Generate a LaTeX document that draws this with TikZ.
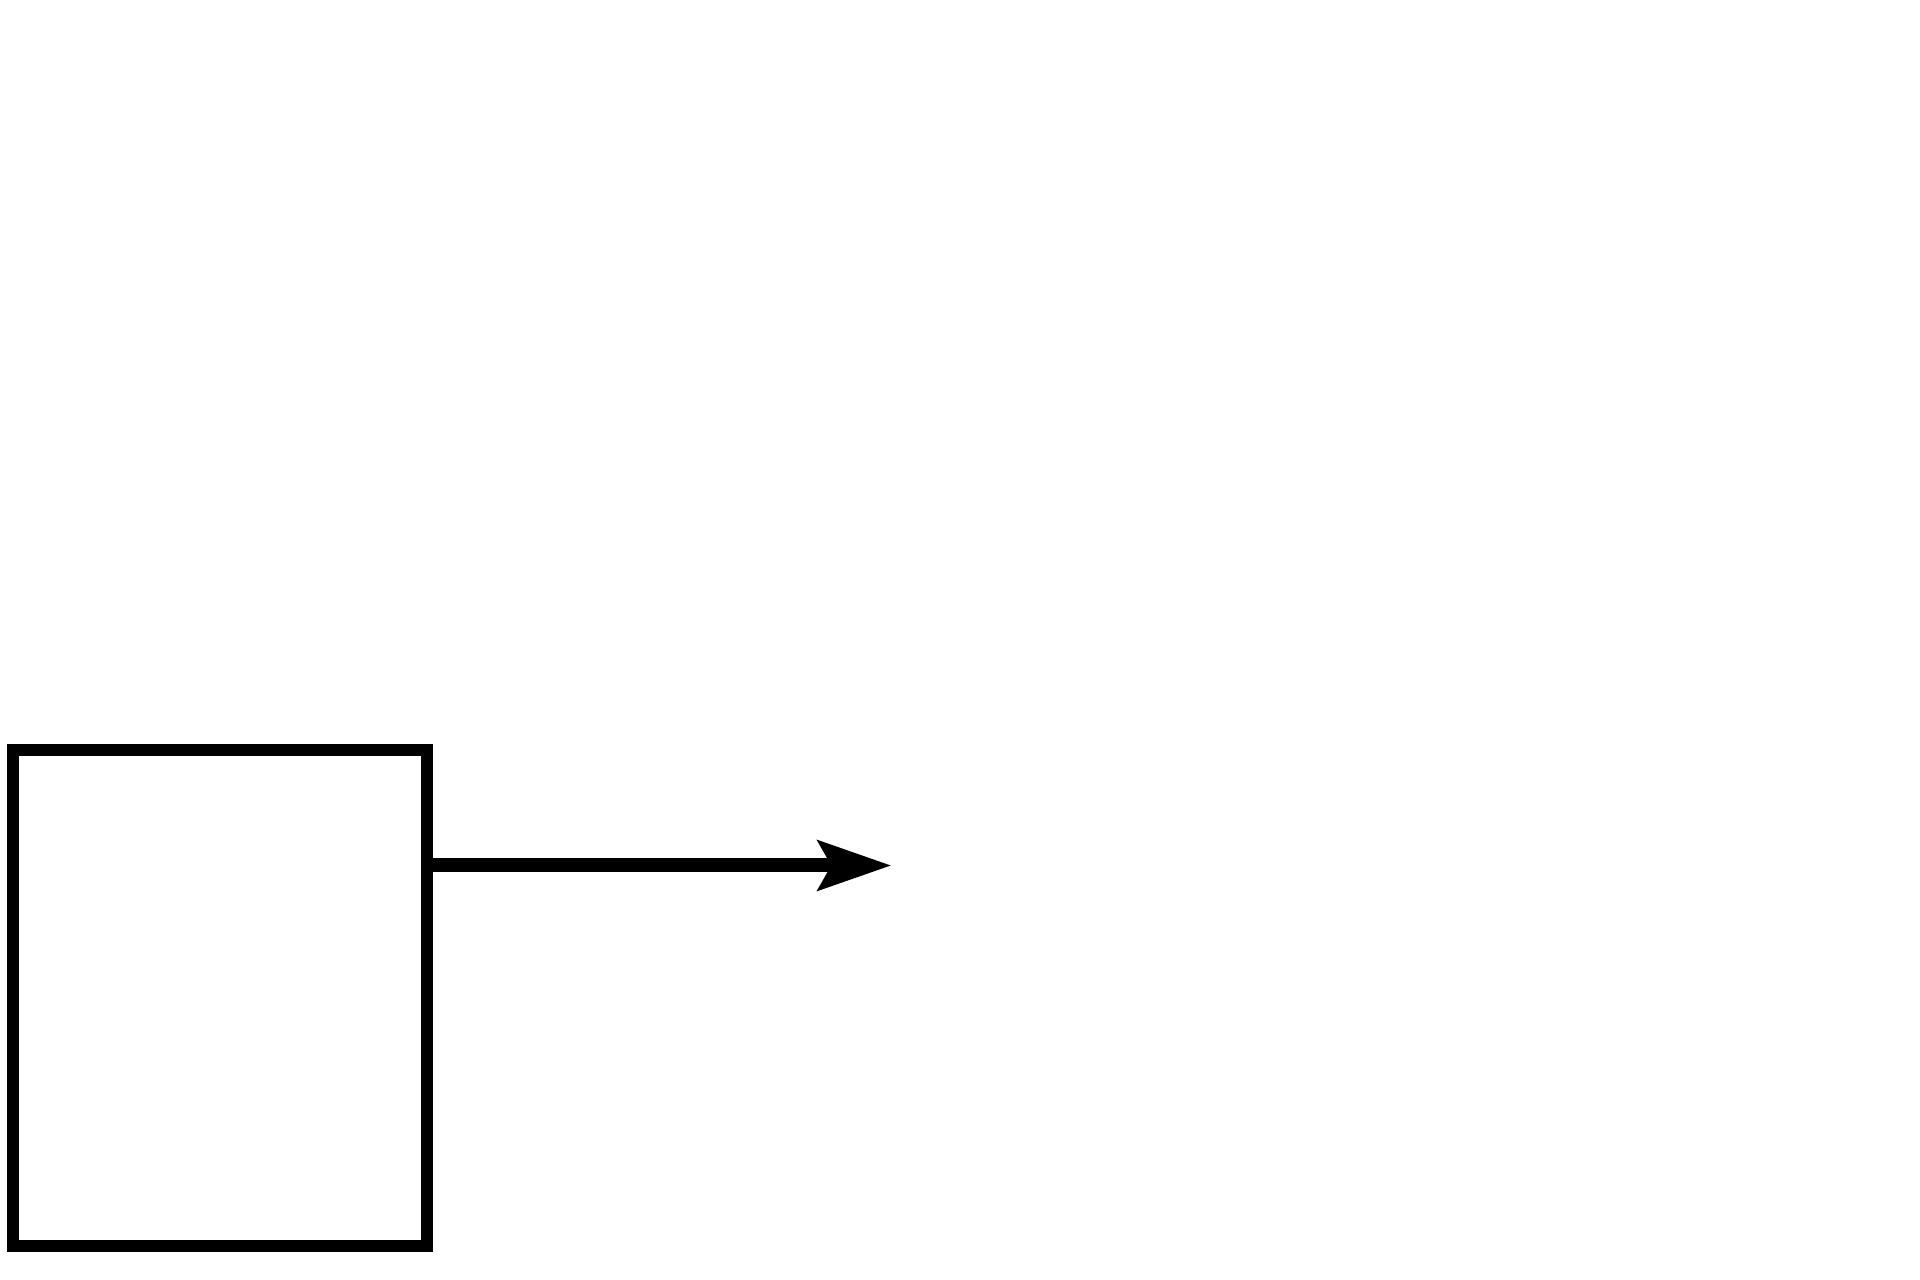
\documentclass[tikz,border=0pt]{standalone}
\usetikzlibrary{arrows.meta,positioning,calc}

\begin{document}
\begin{tikzpicture}[x=0.01cm,y=-0.01cm,
        blockbox/.style={draw, line width=0.12cm, minimum width=4.14cm, minimum height=4.96cm, inner sep=0pt},
        outarrow/.style={line width=0.14cm, -{Stealth[length=0.73cm, width=0.49cm, inset=0.13cm]}}]
        \useasboundingbox (0,0) rectangle (1920,1280);
        \node[blockbox] (sys) at (220,998) {};
        \coordinate (out) at (891.5,865.5);
        \draw[outarrow] ($(sys.east)+(0,-132.5)$) -- (out);
    \end{tikzpicture}
\end{document}
